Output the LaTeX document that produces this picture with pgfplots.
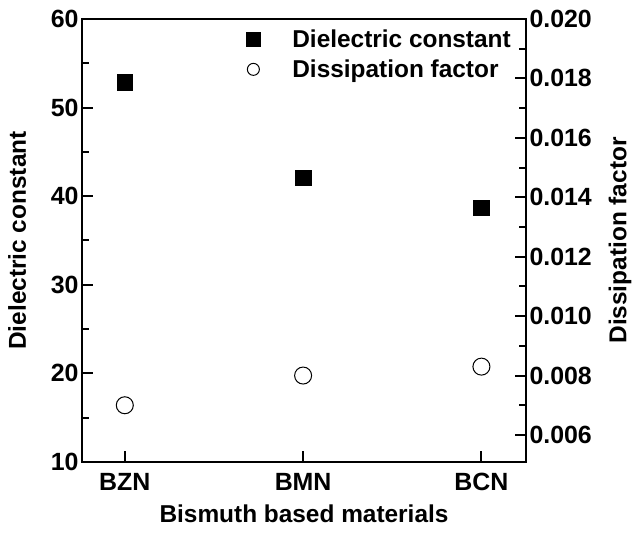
\documentclass[border=0pt]{standalone}
\usepackage{pgfplots}
\pgfplotsset{compat=1.18}
\usepackage{fontspec}
\setmainfont{Liberation Sans}
\begin{document}
\begin{tikzpicture}
\pgfplotsset{
 every axis/.append style={
  scale only axis, width=444bp, height=443bp,
  xmin=-0.24, xmax=2.25,
  tick align=inside,
  major tick length=11bp, minor tick length=7bp,
  every tick/.style={line width=2bp, black},
  axis line style={line width=2.8bp},
  tick label style={font=\fontsize{25}{29}\selectfont\bfseries},
  label style={font=\fontsize{24.5}{28}\selectfont\bfseries},
  /pgf/number format/assume math mode=true,
 }}
\begin{axis}[
  ymin=10, ymax=60,
  ytick={10,20,30,40,50,60}, minor y tick num=1,
  ytick pos=left,
  xtick={0,1,2}, xticklabels={BZN,BMN,BCN}, xtick pos=bottom,
  xticklabel style={font=\fontsize{25}{29}\selectfont\bfseries, yshift=-8bp},
  xlabel={Bismuth based materials},
  xlabel style={at={(rel axis cs:0.5,-0.117)}, anchor=center},
  ylabel={Dielectric constant},
  ylabel style={at={(rel axis cs:-0.146,0.5)}, anchor=center},
]
\addplot[only marks, mark=square*, mark size=7.8bp, black] coordinates {(0,52.9) (1,42.1) (2,38.7)};
\end{axis}
\begin{axis}[
  axis y line*=right, axis x line=none,
  ymin=0.00509, ymax=0.020,
  ytick={0.006,0.008,0.010,0.012,0.014,0.016,0.018,0.020},
  minor y tick num=1,
  scaled y ticks=false,
  yticklabel style={/pgf/number format/.cd, fixed, fixed zerofill, precision=3},
  ylabel={Dissipation factor},
  ylabel style={at={(rel axis cs:1.2117,0.5)}, anchor=center},
  legend style={at={(rel axis cs:0.363,0.981)}, anchor=north west, draw=none, fill=none,
    font=\fontsize{24.5}{28}\selectfont\bfseries, row sep=7bp, inner sep=0pt},
  legend cell align=left,
  legend image code/.code={\path[draw=none,fill=none] (-10bp,0) -- (37bp,0); \draw[#1] plot coordinates {(0bp,0bp)};},
]
\addlegendimage{only marks, mark=square*, mark size=7bp, black}
\addlegendentry{Dielectric constant}
\addlegendimage{only marks, mark=o, mark size=6bp, black, line width=1bp}
\addlegendentry{Dissipation factor}
\addplot[only marks, mark=o, mark size=8.5bp, black, line width=1bp, forget plot] coordinates {(0,0.0070) (1,0.0080) (2,0.0083)};
\end{axis}
\pgfresetboundingbox
\useasboundingbox ([xshift=-82bp,yshift=-81bp]current axis.south west) rectangle ([xshift=110bp,yshift=19bp]current axis.north east);
\end{tikzpicture}
\end{document}
